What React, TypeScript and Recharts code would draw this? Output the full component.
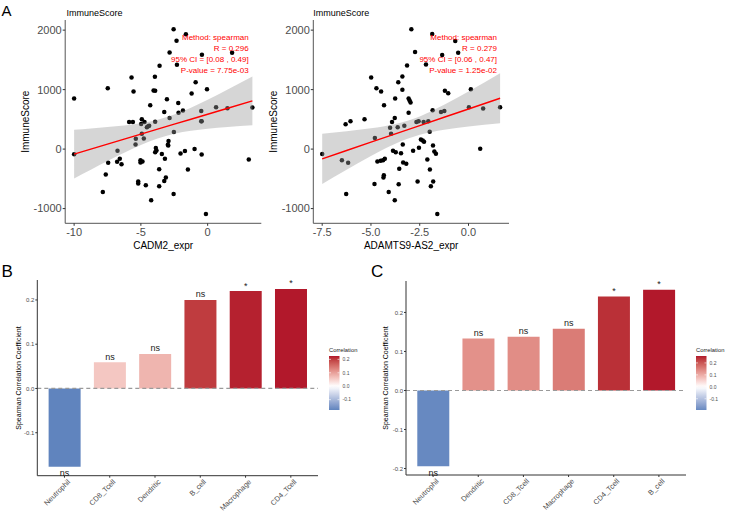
import {
  ComposedChart,
  Scatter,
  Area,
  Line,
  XAxis,
  YAxis,
  ReferenceLine,
  BarChart,
  Bar,
  Cell,
  LabelList,
} from "recharts";

const FONT = "'Liberation Sans', Arial, Helvetica, sans-serif";

// ---- panel A, left: CADM2 expression vs ImmuneScore ----
const cadm2Expr = [
  -10, -10, -7.48, -7.85, -7.63, -7.45, -6.75, -6.78, -6.58, -6.45, -5.88, -5.6, -5.7, -5.55, -5.4, -5.38,
  -5.2, -5.2, -5.03, -5.03, -4.93, -4.98, -4.93, -4.73, -4.88, -4.78, -4.63, -4.55, -4.45, -4.38, -4.3, -4.23,
  -4.05, -3.93, -3.95, -3.93, -3.93, -3.88, -3.83, -3.6, -3.63, -3.63, -3.43, -3.25, -3.25, -3.2, -3.13, -3.05,
  -2.98, -2.93, -2.95, -2.85, -2.85, -2.55, -2.53, -2.55, -2.33, -2.3, -2.2, -2.18, -2.03, -1.85, -1.7, -1.63,
  -1.48, -1.2, -0.98, -0.9, -0.48, -0.48, -0.45, -0.45, -0.43, -0.05, -0.13, 0.63, 1.48, 1.83, 3.08, 3.35,
];
const cadm2Score = [
  850, -85, 1024, -720, -428, -230, -28, -214, -163, -253, 456, 456, 1204, 968, 79, 174,
  -546, -580, -186, -225, 501, 422, 259, 456, -208, 180, -608, 366, 383, 394, 737, -861,
  985, 979, 1216, 461, -51, 17, -23, 1401, -338, -625, -84, 625, -535, -163, -478, 838,
  73, 135, 62, 523, 1626, 2015, 287, -754, 1823, 1418, 777, 613, -73, 647, -34, 1930,
  -343, 934, 0, 1125, 641, 467, 467, -90, 1587, 1007, -1092, 703, 687, 1620, -174, 698,
];
// fitted line with its 95% band, sampled along x
const cadm2FitX = [-10, -8.75, -7.5, -6.25, -5, -3.75, -2.5, -1.25, 0, 1.5, 3.35];
const cadm2FitLow = [-494, -348, -202, -62, 67, 177, 256, 307, 342, 371, 400];
const cadm2Fit = [-84, 0, 84, 168, 251, 335, 419, 502, 586, 687, 810];
const cadm2FitHigh = [326, 348, 370, 397, 435, 493, 582, 697, 830, 1002, 1220];
const cadm2Stats = ["Method: spearman", "R = 0.296", "95% CI = [0.08 , 0.49]", "P-value = 7.75e-03"];
const cadm2Ticks = [-10, -5, 0];

// ---- panel A, right: ADAMTS9-AS2 expression vs ImmuneScore ----
const adamtsExpr = [
  -7.5, -6.49, -6.3, -6.17, -6.27, -6.05, -5.33, -4.99, -4.8, -4.82, -4.72, -4.67, -4.5, -4.48, -4.38, -4.33,
  -4.29, -4.36, -4.34, -4.09, -4.02, -3.97, -3.92, -3.78, -3.76, -3.87, -3.73, -3.78, -3.63, -3.6, -3.55, -3.58,
  -3.46, -3.39, -3.39, -3.37, -3.35, -3.29, -3.19, -3.15, -3.07, -3.02, -2.97, -3.07, -2.93, -2.84, -2.74, -2.67,
  -2.61, -2.56, -2.54, -2.44, -2.35, -2.3, -2.28, -2.18, -2.11, -2.06, -1.99, -1.98, -1.93, -1.86, -1.84, -1.82,
  -1.81, -1.75, -1.67, -1.6, -1.41, -1.35, -1.24, -1.21, -1.04, -0.68, -0.53, 0.02, 0.12, 0.6, 0.75, 1.62,
];
const adamtsScore = [
  -84, -186, 416, -231, -754, 467, 501, 1204, 186, -585, 1024, -208, -197, 968, -186, 737,
  -163, -478, -439, -720, 360, 259, 456, 523, 850, -28, -51, -861, 366, 1125, -332, -591,
  -68, 996, 1221, 79, -225, 394, -248, 1407, 850, 816, 782, 613, 2015, -28, 1632, 456,
  -546, 467, 22, 163, 146, 456, 124, 1424, -174, 467, 293, -343, -625, 1936, 653, 62,
  -546, -40, -79, -1092, 625, 1581, 641, 979, 940, 1818, 1621, 703, 1007, 6, 681, 703,
];
const adamtsFitX = [-7.5, -6.25, -5, -3.75, -2.5, -1.25, 0, 1.62];
const adamtsFitLow = [-585, -347, -117, 90, 240, 326, 379, 433];
const adamtsFit = [-163, -24, 116, 256, 395, 535, 674, 855];
const adamtsFitHigh = [259, 300, 349, 421, 550, 744, 969, 1277];
const adamtsStats = ["Method: spearman", "R = 0.279", "95% CI = [0.06 , 0.47]", "P-value = 1.25e-02"];
const adamtsTicks = [-7.5, -5, -2.5, 0];

const scoreTicks = [-1000, 0, 1000, 2000];

// ---- panel B: immune cell correlation (CADM2) ----
const cellsB = ["Neutrophil", "CD8_Tcell", "Dendritic", "B_cell", "Macrophage", "CD4_Tcell"];
const corrB = [-0.177, 0.059, 0.078, 0.2, 0.22, 0.225];
const sigB = ["ns", "ns", "ns", "ns", "*", "*"];
const ticksB = [-0.1, 0, 0.1, 0.2];

// ---- panel C: immune cell correlation (ADAMTS9-AS2) ----
const cellsC = ["Neutrophil", "Dendritic", "CD8_Tcell", "Macrophage", "CD4_Tcell", "B_cell"];
const corrC = [-0.194, 0.133, 0.138, 0.158, 0.241, 0.258];
const sigC = ["ns", "ns", "ns", "ns", "*", "*"];
const ticksC = [-0.2, -0.1, 0, 0.1, 0.2];
const legendTicks = [-0.1, 0, 0.1, 0.2];

// ggplot-style 5% expansion of a continuous range
const expand = (vals: number[], f = 0.05): [number, number] => {
  const lo = Math.min(...vals);
  const hi = Math.max(...vals);
  const d = (hi - lo) * f;
  return [lo - d, hi + d];
};

// diverging fill scale interpolated in Lab space, midpoint at 0
const toLin = (c: number) => {
  const s = c / 255;
  return s <= 0.04045 ? s / 12.92 : Math.pow((s + 0.055) / 1.055, 2.4);
};
const fromLin = (v: number) => {
  const s = v <= 0.0031308 ? 12.92 * v : 1.055 * Math.pow(v, 1 / 2.4) - 0.055;
  return Math.round(Math.min(1, Math.max(0, s)) * 255);
};
const XN = 0.95047;
const ZN = 1.08883;
const fLab = (t: number) => (t > 216 / 24389 ? Math.cbrt(t) : ((24389 / 27) * t + 16) / 116);
const fInv = (t: number) => (t * t * t > 216 / 24389 ? t * t * t : (116 * t - 16) / (24389 / 27));
function hexToLab(hex: string): number[] {
  const r = toLin(parseInt(hex.slice(1, 3), 16));
  const g = toLin(parseInt(hex.slice(3, 5), 16));
  const b = toLin(parseInt(hex.slice(5, 7), 16));
  const x = (0.4124 * r + 0.3576 * g + 0.1805 * b) / XN;
  const y = 0.2126 * r + 0.7152 * g + 0.0722 * b;
  const z = (0.0193 * r + 0.1192 * g + 0.9505 * b) / ZN;
  const fx = fLab(x);
  const fy = fLab(y);
  const fz = fLab(z);
  return [116 * fy - 16, 500 * (fx - fy), 200 * (fy - fz)];
}
function labToRgb(lab: number[]) {
  const fy = (lab[0] + 16) / 116;
  const fx = fy + lab[1] / 500;
  const fz = fy - lab[2] / 200;
  const x = fInv(fx) * XN;
  const y = fInv(fy);
  const z = fInv(fz) * ZN;
  const r = 3.2406 * x - 1.5372 * y - 0.4986 * z;
  const g = -0.9689 * x + 1.8758 * y + 0.0415 * z;
  const b = 0.0557 * x - 0.204 * y + 1.057 * z;
  return `rgb(${fromLin(r)},${fromLin(g)},${fromLin(b)})`;
}
const LOW = hexToLab("#2166AC");
const MID = hexToLab("#FFFFFF");
const HIGH = hexToLab("#B2182B");
function corrColor(v: number, extent: number) {
  const t = Math.max(-1, Math.min(1, v / extent));
  const end = t < 0 ? LOW : HIGH;
  const k = Math.abs(t);
  return labToRgb(MID.map((m, i) => m + (end[i] - m) * k));
}

interface ScatterPanelProps {
  xs: number[];
  ys: number[];
  fitX: number[];
  fitLow: number[];
  fit: number[];
  fitHigh: number[];
  xTicks: number[];
  tickDigits: number;
  left: number;
  width: number;
  yAxisWidth: number;
  marginRight: number;
}

const BORDER = "#555555";

const ScatterPanel = (p: ScatterPanelProps) => {
  const points = p.xs.map((x, i) => ({ x, y: p.ys[i] }));
  const band = p.fitX.map((x, i) => ({ x, lo: p.fitLow[i], fit: p.fit[i], hi: p.fitHigh[i] }));
  const xd = expand(p.xs);
  const yd = expand(p.ys);
  const tickStyle = { fill: "#4D4D4D", fontSize: 11, fontFamily: FONT };
  return (
    <div style={{ position: "absolute", left: p.left, top: 0 }}>
      <ComposedChart
        width={p.width}
        height={252}
        data={band}
        margin={{ top: 20, right: p.marginRight, bottom: 0, left: 0 }}
      >
        <XAxis
          type="number"
          dataKey="x"
          domain={xd}
          allowDataOverflow
          ticks={p.xTicks}
          tickFormatter={(v: number) => v.toFixed(p.tickDigits)}
          height={28.7}
          tickSize={2.5}
          tickMargin={2}
          axisLine={{ stroke: BORDER }}
          tickLine={{ stroke: "#333333" }}
          tick={tickStyle}
        />
        {/* top and right axes only close the panel frame */}
        <XAxis
          xAxisId="frame"
          orientation="top"
          type="number"
          domain={xd}
          allowDataOverflow
          height={0}
          tick={false}
          tickLine={false}
          axisLine={{ stroke: BORDER }}
        />
        <YAxis
          type="number"
          dataKey="y"
          domain={yd}
          allowDataOverflow
          ticks={scoreTicks}
          width={p.yAxisWidth}
          tickSize={2.5}
          tickMargin={1}
          axisLine={{ stroke: BORDER }}
          tickLine={{ stroke: "#333333" }}
          tick={tickStyle}
        />
        <YAxis
          yAxisId="frame"
          orientation="right"
          type="number"
          domain={yd}
          allowDataOverflow
          width={0}
          tick={false}
          tickLine={false}
          axisLine={{ stroke: BORDER }}
        />
        <Scatter
          data={points}
          dataKey="y"
          isAnimationActive={false}
          shape={(s: any) => <circle cx={s.cx} cy={s.cy} r={2.25} fill="#000000" />}
        />
        <Area
          dataKey={(d: any) => [d.lo, d.hi]}
          type="monotone"
          stroke="none"
          fill="#999999"
          fillOpacity={0.4}
          isAnimationActive={false}
          zIndex={650}
        />
        <Line
          dataKey="fit"
          type="linear"
          stroke="#FF0000"
          strokeWidth={1.4}
          dot={false}
          isAnimationActive={false}
          zIndex={700}
        />
      </ComposedChart>
    </div>
  );
};

const SlantTick = (props: any) => {
  const { x, y, payload } = props;
  const ax = x + 2.5;
  const ay = y + 1;
  return (
    <text
      x={ax}
      y={ay}
      dy="0.71em"
      transform={`rotate(-45 ${ax} ${ay})`}
      textAnchor="end"
      fontSize={7.3}
      fontFamily={FONT}
      fill="#4D4D4D"
    >
      {payload.value}
    </text>
  );
};

interface CorrBarsProps {
  cells: string[];
  corr: number[];
  sig: string[];
  yTicks: number[];
  left: number;
  yAxisWidth: number;
  marginTop: number;
  marginRight: number;
  xAxisHeight: number;
}

const CorrBars = (p: CorrBarsProps) => {
  const rows = p.cells.map((cell, i) => ({ cell, r: p.corr[i], sig: p.sig[i] }));
  const yd = expand([0, ...p.corr]);
  const extent = Math.max(...p.corr.map((v) => Math.abs(v)));
  const width = 330;
  const plotW = width - p.yAxisWidth - p.marginRight;
  // discrete axis expanded by 0.6 of a category on each side
  const pad = (plotW * 0.1) / (p.cells.length + 0.2);

  const renderSig = (lp: any) => {
    const { x, y, width: w, height: h, index } = lp;
    const v = p.corr[index];
    const top = Math.min(y, y + h);
    const bottom = Math.max(y, y + h);
    const ty = v < 0 ? bottom + 9.5 : top - 2.6;
    return (
      <text
        x={x + w / 2}
        y={ty}
        textAnchor="middle"
        fontSize={9}
        fontFamily={FONT}
        fill="#1A1A1A"
      >
        {p.sig[index]}
      </text>
    );
  };

  return (
    <div style={{ position: "absolute", left: p.left, top: 260 }}>
      <BarChart
        width={width}
        height={251}
        data={rows}
        margin={{ top: p.marginTop, right: p.marginRight, bottom: 0, left: 0 }}
        barCategoryGap="15%"
      >
        <XAxis
          dataKey="cell"
          interval={0}
          height={p.xAxisHeight}
          padding={{ left: pad, right: pad }}
          tickSize={2}
          tickMargin={0}
          axisLine={{ stroke: "#333333" }}
          tickLine={{ stroke: "#333333" }}
          tick={<SlantTick />}
        />
        <YAxis
          type="number"
          domain={yd}
          allowDataOverflow
          ticks={p.yTicks}
          tickFormatter={(v: number) => v.toFixed(1)}
          width={p.yAxisWidth}
          tickSize={2}
          tickMargin={1}
          axisLine={{ stroke: "#333333" }}
          tickLine={{ stroke: "#333333" }}
          tick={{ fill: "#4D4D4D", fontSize: 6, fontFamily: FONT }}
        />
        <ReferenceLine y={0} stroke="#9A9A9A" strokeWidth={1.2} strokeDasharray="4 3" />
        <Bar dataKey="r" isAnimationActive={false}>
          {rows.map((row, i) => (
            <Cell key={`bar-${i}`} fill={corrColor(row.r, extent)} />
          ))}
          <LabelList dataKey="sig" content={renderSig} />
        </Bar>
      </BarChart>
    </div>
  );
};

// gradient legend drawn beside each bar panel
const ColorBar = ({ x, y, corr, id }: { x: number; y: number; corr: number[]; id: string }) => {
  const lo = Math.min(...corr);
  const hi = Math.max(...corr);
  const extent = Math.max(Math.abs(lo), Math.abs(hi));
  const h = 54;
  const w = 10.5;
  const stops = Array.from({ length: 21 }, (_, i) => lo + ((hi - lo) * i) / 20);
  const yOf = (v: number) => y + h - ((v - lo) / (hi - lo)) * h;
  return (
    <g fontFamily={FONT}>
      <defs>
        <linearGradient id={id} x1="0" y1="1" x2="0" y2="0">
          {stops.map((v, i) => (
            <stop key={i} offset={`${i * 5}%`} stopColor={corrColor(v, extent)} />
          ))}
        </linearGradient>
      </defs>
      <text x={x} y={y - 4} fontSize={5.8} fill="#1A1A1A">
        Correlation
      </text>
      <rect x={x} y={y} width={w} height={h} fill={`url(#${id})`} />
      {legendTicks.map((t) => (
        <g key={t}>
          <line x1={x} x2={x + 2} y1={yOf(t)} y2={yOf(t)} stroke="#FFFFFF" strokeWidth={0.6} />
          <line x1={x + w - 2} x2={x + w} y1={yOf(t)} y2={yOf(t)} stroke="#FFFFFF" strokeWidth={0.6} />
          <text x={x + w + 3} y={yOf(t) + 1.8} fontSize={5} fill="#4D4D4D">
            {t.toFixed(1)}
          </text>
        </g>
      ))}
    </g>
  );
};

const StatsText = ({ x, lines }: { x: number; lines: string[] }) => (
  <g>
    {lines.map((s, i) => (
      <text key={i} x={x} y={39.9 + i * 11} textAnchor="end" fontSize={8} fill="#FF0000">
        {s}
      </text>
    ))}
  </g>
);

export default function App() {
  return (
    <div
      style={{
        position: "absolute",
        left: 0,
        top: 0,
        width: 731,
        height: 511,
        background: "#FFFFFF",
        overflow: "hidden",
        fontFamily: FONT,
      }}
    >
      <ScatterPanel
        xs={cadm2Expr}
        ys={cadm2Score}
        fitX={cadm2FitX}
        fitLow={cadm2FitLow}
        fit={cadm2Fit}
        fitHigh={cadm2FitHigh}
        xTicks={cadm2Ticks}
        tickDigits={0}
        left={0}
        width={270}
        yAxisWidth={65.2}
        marginRight={8.7}
      />
      <ScatterPanel
        xs={adamtsExpr}
        ys={adamtsScore}
        fitX={adamtsFitX}
        fitLow={adamtsFitLow}
        fit={adamtsFit}
        fitHigh={adamtsFitHigh}
        xTicks={adamtsTicks}
        tickDigits={1}
        left={250}
        width={262}
        yAxisWidth={63.3}
        marginRight={3}
      />
      <CorrBars
        cells={cellsB}
        corr={corrB}
        sig={sigB}
        yTicks={ticksB}
        left={0}
        yAxisWidth={37.3}
        marginTop={20}
        marginRight={12}
        xAxisHeight={35.3}
      />
      <CorrBars
        cells={cellsC}
        corr={corrC}
        sig={sigC}
        yTicks={ticksC}
        left={370}
        yAxisWidth={36}
        marginTop={21}
        marginRight={14}
        xAxisHeight={36}
      />
      <svg
        width={731}
        height={511}
        style={{ position: "absolute", left: 0, top: 0, pointerEvents: "none" }}
        fontFamily={FONT}
      >
        {/* panel letters */}
        <text x={1.5} y={16} fontSize={15} fill="#000000">A</text>
        <text x={1.5} y={277} fontSize={17} fill="#000000">B</text>
        <text x={371} y={277} fontSize={17} fill="#000000">C</text>

        {/* scatter titles and axis titles */}
        <text x={66.5} y={16} fontSize={9} fill="#000000">ImmuneScore</text>
        <text x={313.3} y={16} fontSize={9} fill="#000000">ImmuneScore</text>
        <text x={29} y={121.7} fontSize={10} textAnchor="middle" transform="rotate(-90 29 121.7)" fill="#000000">
          ImmuneScore
        </text>
        <text x={277.5} y={121.7} fontSize={10} textAnchor="middle" transform="rotate(-90 277.5 121.7)" fill="#000000">
          ImmuneScore
        </text>
        <text x={163.2} y={248.5} fontSize={10} textAnchor="middle" fill="#000000">CADM2_expr</text>
        <text x={411.2} y={248.5} fontSize={10} textAnchor="middle" fill="#000000">ADAMTS9-AS2_expr</text>
        <StatsText x={248.7} lines={cadm2Stats} />
        <StatsText x={497} lines={adamtsStats} />

        {/* bar panel y titles */}
        <text x={20.5} y={378} fontSize={7} textAnchor="middle" transform="rotate(-90 20.5 378)" fill="#000000">
          Spearman Correlation Coefficient
        </text>
        <text x={387.5} y={378} fontSize={7} textAnchor="middle" transform="rotate(-90 387.5 378)" fill="#000000">
          Spearman Correlation Coefficient
        </text>

        <ColorBar x={329} y={356} corr={corrB} id="corr-grad-b" />
        <ColorBar x={696} y={356} corr={corrC} id="corr-grad-c" />
      </svg>
    </div>
  );
}
